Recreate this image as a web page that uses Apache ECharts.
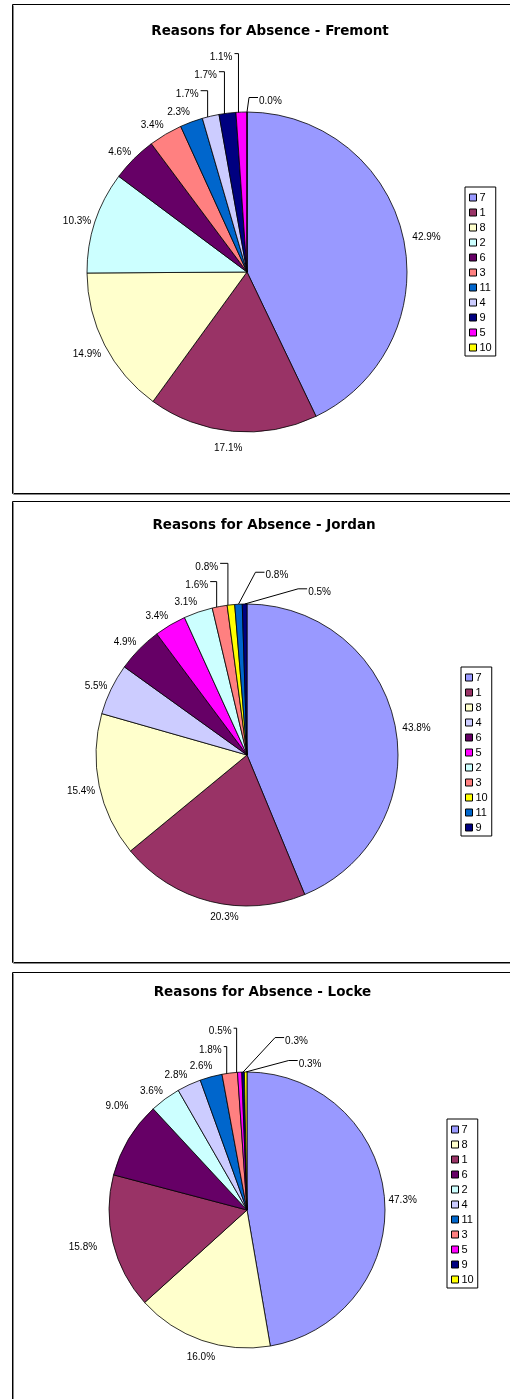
<!DOCTYPE html>
<html>
<head>
<meta charset="utf-8">
<script src="https://cdn.jsdelivr.net/npm/echarts@6/dist/echarts.min.js"></script>
<style>
html,body{margin:0;padding:0;background:#fff;}
#chart{width:510px;height:1399px;}
</style>
</head>
<body>
<div id="chart"></div>
<script>
// ---------- data ----------
const titles = ['Reasons for Absence - Fremont', 'Reasons for Absence - Jordan', 'Reasons for Absence - Locke'];
const fremontReasons = ['7', '1', '8', '2', '6', '3', '11', '4', '9', '5', '10'];
const fremontPercent = [42.9, 17.1, 14.9, 10.3, 4.6, 3.4, 2.3, 1.7, 1.7, 1.1, 0.0];
const jordanReasons = ['7', '1', '8', '4', '6', '5', '2', '3', '10', '11', '9'];
const jordanPercent = [43.8, 20.3, 15.4, 5.5, 4.9, 3.4, 3.1, 1.6, 0.8, 0.8, 0.5];
const lockeReasons = ['7', '8', '1', '6', '2', '4', '11', '3', '5', '9', '10'];
const lockePercent = [47.3, 16.0, 15.8, 9.0, 3.6, 2.8, 2.6, 1.8, 0.5, 0.3, 0.3];

// ---------- styles ----------
const reasonColors = {
  '7': '#9999FF', '1': '#993366', '8': '#FFFFCC', '2': '#CCFFFF', '6': '#660066',
  '3': '#FF8080', '11': '#0066CC', '4': '#CCCCFF', '9': '#000080', '5': '#FF00FF', '10': '#FFFF00'
};
const LABEL_FONT = 'Liberation Sans, Arial, sans-serif';
const TITLE_FONT = 'DejaVu Sans, Verdana, sans-serif';

// layout per panel. Label nudges, relative to the wedge's outer edge point:
//  ['L', dx, dy] right-aligned with elbow leader, ['R', dx, dy] left-aligned with leader,
//  ['C', dx, dy] centred text, no leader
const panels = [
  { reasons: fremontReasons, values: fremontPercent, box: [12.5, 4.5, 520, 489], titleX: 265, titleTop: 19,
    center: [247, 272], radius: 160, legend: [465, 187],
    nudges: { 0: ['C', 23.5, 0.4], 7: ['L', -12, -22], 8: ['L', -10.5, -38], 9: ['L', -9, -55], 10: ['R', 12, -11] } },
  { reasons: jordanReasons, values: jordanPercent, box: [12.5, 501.5, 520, 461], titleX: 259, titleTop: 513,
    center: [247, 755], radius: 151, legend: [461, 667],
    nudges: { 0: ['C', 21.4, 2.3], 1: ['C', 14, 15.6], 7: ['L', -11.5, -21.4], 8: ['L', -12.8, -38], 9: ['R', 27, -28.5], 10: ['R', 63.5, -11.7] } },
  { reasons: lockeReasons, values: lockePercent, box: [12.5, 972.5, 520, 460], titleX: 257.5, titleTop: 980,
    center: [247, 1210], radius: 138, legend: [447, 1119],
    nudges: { 1: ['C', -1, 16.5], 2: ['C', -30, 4.3], 3: ['C', -11.7, -33], 7: ['L', -8, -23], 8: ['L', -8, -40.5], 9: ['R', 42, -31], 10: ['R', 53, -8] } }
];

function edgePoint(cfg, i) {
  const total = cfg.values.reduce((a, b) => a + b, 0);
  let before = 0;
  for (let k = 0; k < i; k++) before += cfg.values[k];
  const mid = (before + cfg.values[i] / 2) / total * Math.PI * 2;
  return [cfg.center[0] + cfg.radius * Math.sin(mid), cfg.center[1] - cfg.radius * Math.cos(mid)];
}

function makeLabelLayout(cfg) {
  return function (p) {
    const i = p.dataIndex;
    const c = cfg.center, r = cfg.radius;
    let e = p.labelLinePoints && p.labelLinePoints[0];
    if (!e) e = edgePoint(cfg, i);
    e = [e[0], e[1]];
    const ux = (e[0] - c[0]) / r, uy = (e[1] - c[1]) / r;
    const w = p.labelRect.width;
    const n = cfg.nudges[i];
    if (!n) {
      const sx = ux < 0 ? -1 : 1;
      const x = c[0] + ux * (r + 4) + sx * (w / 2) * Math.min(1, 3 * Math.abs(ux));
      const y = c[1] + uy * (r + 13.7) + 3;
      return { x: x, y: y, align: 'center', verticalAlign: 'middle', labelLinePoints: [e, e, e] };
    }
    const y = e[1] + n[2];
    const x = e[0] + n[1];
    if (n[0] === 'C') {
      return { x: x, y: y, align: 'center', verticalAlign: 'middle', labelLinePoints: [e, e, e] };
    }
    if (n[0] === 'L') {
      return { x: x, y: y, align: 'right', verticalAlign: 'middle',
        labelLinePoints: [[x + 2, y - 3.5], [e[0] - 3, y - 3.5], [e[0] - 3, e[1] + 1]] };
    }
    return { x: x, y: y, align: 'left', verticalAlign: 'middle',
      labelLinePoints: [e, [x - 10, y - 3.5], [x - 1, y - 3.5]] };
  };
}

const graphic = [];
const title = [];
const legend = [];
const series = [];

panels.forEach((cfg, idx) => {
  const b = cfg.box;
  graphic.push({ type: 'rect', z: -10, shape: { x: b[0], y: b[1], width: b[2], height: b[3] },
    style: { fill: '#fff', stroke: '#000', lineWidth: 1 } });
  graphic.push({ type: 'polyline', z: -9, shape: { points: [[b[0] + 1, b[1] + 1], [b[0] + 1, b[1] + b[3] + 1], [b[0] + b[2], b[1] + b[3] + 1]] },
    style: { fill: null, stroke: '#888', lineWidth: 1 } });

  title.push({ text: titles[idx], left: cfg.titleX, top: cfg.titleTop, textAlign: 'center',
    textStyle: { fontFamily: TITLE_FONT, fontWeight: 'bold', fontSize: 13.5, color: '#000' } });

  legend.push({
    orient: 'vertical', left: cfg.legend[0], top: cfg.legend[1], data: cfg.reasons.slice(),
    selectedMode: false, icon: 'rect', itemWidth: 7, itemHeight: 7, itemGap: 4,
    padding: [5, 4, 3, 4], borderColor: '#000', borderWidth: 1, backgroundColor: '#fff',
    itemStyle: { borderColor: '#000', borderWidth: 1 },
    textStyle: { fontFamily: LABEL_FONT, fontSize: 11, color: '#000', lineHeight: 11, padding: [0, 0, 0, -2] }
  });

  series.push({
    type: 'pie', center: cfg.center, radius: cfg.radius, startAngle: 90, clockwise: true,
    avoidLabelOverlap: false, animation: false, silent: true,
    itemStyle: { borderColor: '#000', borderWidth: 0.8 },
    label: { show: true, position: 'outside', fontFamily: LABEL_FONT, fontSize: 10, color: '#000',
      formatter: (p) => p.value.toFixed(1) + '%' },
    labelLine: { show: true, length: 4, length2: 4, lineStyle: { color: '#000', width: 1 } },
    labelLayout: makeLabelLayout(cfg),
    data: cfg.reasons.map((name, k) => ({ name: name, value: cfg.values[k], itemStyle: { color: reasonColors[name] } }))
  });
});

const chart = echarts.init(document.getElementById('chart'), null, { renderer: 'canvas' });
chart.setOption({ animation: false, backgroundColor: '#fff', graphic: graphic, title: title, legend: legend, series: series });
</script>
</body>
</html>
